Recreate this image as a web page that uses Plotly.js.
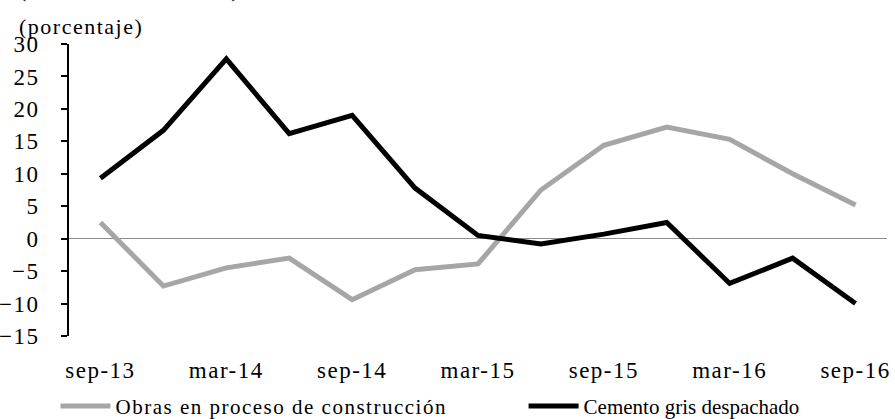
<!DOCTYPE html>
<html>
<head>
<meta charset="utf-8">
<script src="https://cdn.plot.ly/plotly-3.0.1.min.js"></script>
<style>
html,body{margin:0;padding:0;background:#fff;}
#chart{width:895px;height:419px;}
.xtick text,.ytick text,.legendtext,.annotation-text{letter-spacing:1.5px;}
</style>
</head>
<body>
<div id="chart"></div>
<script>
const categories = ["sep-13","dic-13","mar-14","jun-14","sep-14","dic-14","mar-15","jun-15","sep-15","dic-15","mar-16","jun-16","sep-16"];
const tickLabels = ["sep-13","mar-14","sep-14","mar-15","sep-15","mar-16","sep-16"];
const obras = [2.5,-7.3,-4.5,-3.0,-9.4,-4.8,-3.9,7.5,14.4,17.2,15.3,10.0,5.2];
const cemento = [9.3,16.7,27.7,16.2,19.0,7.8,0.5,-0.8,0.7,2.5,-6.9,-3.0,-10.0];
const yTicks = [-15,-10,-5,0,5,10,15,20,25,30];

const font = "'Liberation Serif', 'Times New Roman', Times, serif";
const F = {family: font, size: 21, color: "#000"};
const FT = {family: font, size: 23, color: "#000"};
const FA = {family: font, size: 22, color: "#000"};
const traces = [
  {x: categories, y: obras, type: "scatter", mode: "lines", name: "Obras en proceso de construcción",
   line: {color: "#A6A6A6", width: 5}, legend: "legend"},
  {x: categories, y: cemento, type: "scatter", mode: "lines", name: "Cemento gris despachado",
   line: {color: "#000000", width: 5}, legend: "legend2"}
];
const layout = {
  width: 895, height: 419,
  margin: {l: 69, r: 8, t: 44, b: 83},
  paper_bgcolor: "#fff", plot_bgcolor: "#fff",
  font: F,
  showlegend: true,
  legend: {orientation: "h", xref: "container", yref: "container", x: 0.062, xanchor: "left", y: 0.03, yanchor: "middle",
           font: F, itemwidth: 50, bgcolor: "rgba(0,0,0,0)"},
  legend2: {orientation: "h", xref: "container", yref: "container", x: 0.585, xanchor: "left", y: 0.03, yanchor: "middle",
           font: F, itemwidth: 50, bgcolor: "rgba(0,0,0,0)"},
  xaxis: {type: "category", range: [-0.5, 12.5], tickmode: "array", tickvals: tickLabels, ticktext: tickLabels,
          showgrid: false, showline: false, ticks: "", zeroline: false, fixedrange: true, automargin: false,
          ticklabelstandoff: 18, tickfont: FT},
  yaxis: {range: [-15, 30], tickmode: "array", tickvals: yTicks, showgrid: false, automargin: false,
          showline: true, linecolor: "#000", linewidth: 2, ticks: "outside", ticklen: 6, tickwidth: 2, tickcolor: "#000",
          zeroline: true, zerolinecolor: "#8C8C8C", zerolinewidth: 1.5, ticklabelstandoff: 17,
          tickfont: FT},
  annotations: [
    {text: "(porcentaje)", xref: "paper", yref: "paper", x: -0.0636, y: 1.06, xanchor: "left", yanchor: "middle",
     showarrow: false, font: FA},
    {text: "(variación anual real)", xref: "paper", yref: "paper", x: -0.0636, y: 1.187, xanchor: "left", yanchor: "middle",
     showarrow: false, font: FA}
  ]
};
Plotly.newPlot("chart", traces, layout, {displayModeBar: false, staticPlot: true});
</script>
</body>
</html>
